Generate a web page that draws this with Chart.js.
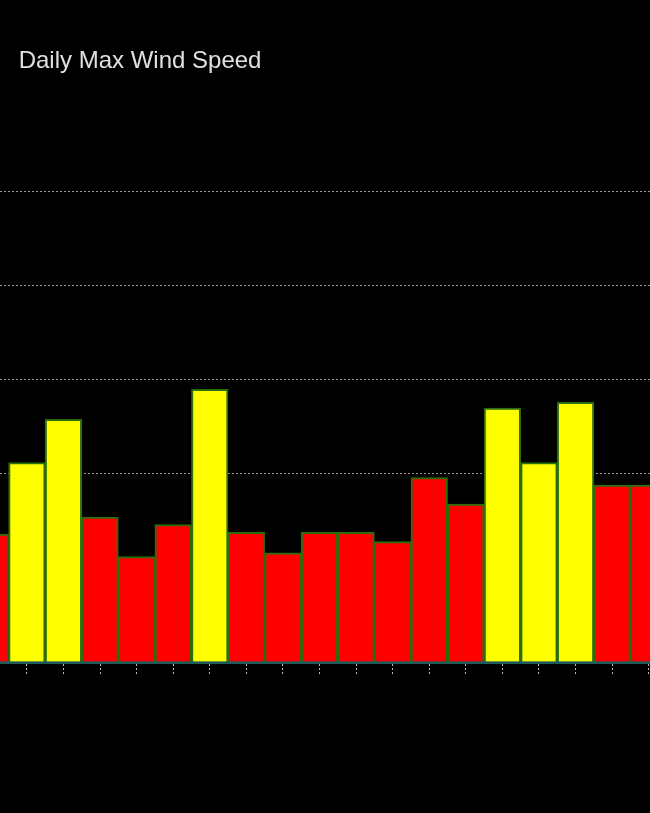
<!DOCTYPE html>
<html>
<head>
<meta charset="utf-8">
<script src="https://cdn.jsdelivr.net/npm/chart.js@4/dist/chart.umd.min.js"></script>
<style>
    html, body { margin: 0; padding: 0; background: #000; overflow: hidden; }
    #wrap { position: absolute; left: -28px; top: 0; width: 695px; height: 690px; }
</style>
</head>
<body>
<div id="wrap"><canvas id="myChart"></canvas></div>
<script>
// Chart data
const days = ['1', '2', '3', '4', '5', '6', '7', '8', '9', '10',
    '11', '12', '13', '14', '15', '16', '17', '18', '19'];
const windSpeed = [6.8, 10.6, 12.9, 7.7, 5.6, 7.3, 14.5, 6.9, 5.8, 6.9,
    6.9, 6.4, 9.8, 8.4, 13.5, 10.6, 13.8, 9.4, 9.4];
const yTicks = [0, 5, 10, 15, 20, 25];
const threshold = 10;

// yellow above the threshold, red otherwise
const barColors = windSpeed.map(v => v > threshold ? '#ffff00' : '#ff0000');

const ctx = document.getElementById('myChart').getContext('2d');

const myChart = new Chart(ctx, {
    type: 'bar',
    data: {
        labels: days,
        datasets: [{
            label: 'Wind Speed',
            data: windSpeed,
            backgroundColor: barColors,
            borderColor: '#2a6e0e',
            borderWidth: 2,
            borderSkipped: 'bottom',
            barPercentage: 1,
            categoryPercentage: 1,
        }],
    },
    options: {
        responsive: true,
        maintainAspectRatio: false,
        animation: false,
        layout: { padding: { left: 0, right: 0, top: 0, bottom: 16 } },
        plugins: {
            legend: { display: false },
            tooltip: { enabled: false },
            title: {
                display: true,
                // leading spaces push the title in from the clipped left edge
                text: '       Daily Max Wind Speed',
                align: 'start',
                color: '#e0e0e0',
                font: { family: 'Liberation Sans', size: 24, weight: 'normal' },
                padding: { top: 47, bottom: 116 },
            },
        },
        scales: {
            x: {
                ticks: { display: false },
                grid: {
                    offset: false,
                    drawOnChartArea: false,
                    drawTicks: true,
                    tickLength: 12,
                    tickColor: '#bbbbbb',
                    tickBorderDash: [2, 2],
                    tickWidth: 1,
                },
                border: { color: '#1d5a5a', width: 3 },
            },
            y: {
                min: yTicks[0],
                max: yTicks[yTicks.length - 1],
                afterBuildTicks: axis => { axis.ticks = yTicks.map(v => ({ value: v })); },
                ticks: { display: false },
                grid: {
                    drawTicks: false,
                    color: '#9a9a9a',
                    lineWidth: 1,
                },
                border: { display: false, dash: [2, 2] },
            },
        },
    },
});
</script>
</body>
</html>
